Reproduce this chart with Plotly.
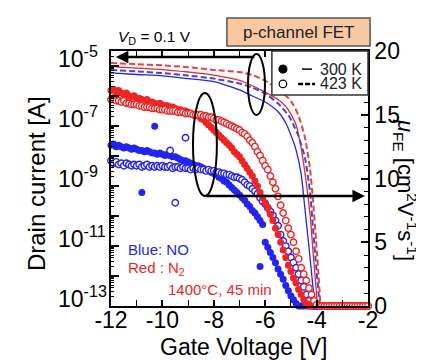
import plotly.graph_objects as go

# ---------------- data ----------------
# Gate voltage grid of the mobility measurements (V)
vg_mu = [-12.0, -11.9, -11.8, -11.7, -11.6, -11.5, -11.4, -11.3, -11.2, -11.1,
         -11.0, -10.9, -10.8, -10.7, -10.6, -10.5, -10.4, -10.3, -10.2, -10.1,
         -10.0, -9.9, -9.8, -9.7, -9.6, -9.5, -9.4, -9.3, -9.2, -9.1,
         -9.0, -8.9, -8.8, -8.7, -8.6, -8.5, -8.4, -8.3, -8.2, -8.1,
         -8.0, -7.9, -7.8, -7.7, -7.6, -7.5, -7.4, -7.3, -7.2, -7.1,
         -7.0, -6.9, -6.8, -6.7, -6.6, -6.5, -6.4, -6.3, -6.2, -6.1,
         -6.0, -5.9, -5.8, -5.7, -5.6, -5.5, -5.4, -5.3, -5.2, -5.1,
         -5.0, -4.9, -4.8, -4.7, -4.6, -4.5, -4.4, -4.3, -4.2, -4.1,
         -4.0, -3.9, -3.8, -3.7, -3.6, -3.5, -3.4, -3.3, -3.2, -3.1,
         -3.0, -2.9, -2.8, -2.7, -2.6, -2.5, -2.4, -2.3, -2.2, -2.1, -2.0]

# Field-effect mobility (cm^2/Vs), N2 anneal, 300 K (red filled)
mu_n2_300 = [16.9, 17.0, 16.8, 16.9, 16.7, 16.6, 16.7, 16.5, 16.4, 16.5,
             16.3, 16.3, 16.2, 16.1, 16.2, 16.0, 16.0, 15.9, 15.8, 15.9,
             15.75, 15.7, 15.7, 15.6, 15.6, 15.5, 15.4, 15.4, 15.3, 15.3,
             15.2, 15.1, 15.0, 15.0, 14.9, 14.7, 14.6, 14.4, 14.2, 14.0,
             13.8, 13.6, 13.4, 13.2, 13.0, 12.8, 12.6, 12.4, 12.1, 11.9,
             11.7, 11.4, 11.1, 10.8, 10.5, 10.2, 9.8, 9.4, 8.9, 8.5,
             8.1, 7.7, 7.2, 6.7, 6.1, 5.6, 5.0, 4.4, 3.8, 3.2,
             2.7, 2.2, 1.8, 1.3, 0.9, 0.5, 0.2, 0.0, 0.0, 0.0,
             0.0, 0.0, 0.0, 0.0, 0.0, 0.0, 0.0, 0.0, 0.0, 0.0,
             0.0, 0.0, 0.0, 0.0, 0.0, 0.0, 0.0, 0.0, 0.0, 0.0, 0.0]

# N2 anneal, 423 K (red open)
mu_n2_423 = [16.2, 16.3, 16.1, 16.1, 16.0, 16.1, 15.9, 15.9, 15.8, 15.8,
             15.8, 15.7, 15.7, 15.6, 15.6, 15.6, 15.5, 15.5, 15.5, 15.4,
             15.4, 15.4, 15.3, 15.3, 15.3, 15.3, 15.2, 15.2, 15.2, 15.1,
             15.1, 15.1, 15.0, 15.0, 15.0, 15.0, 14.9, 14.9, 14.8, 14.8,
             14.7, 14.6, 14.6, 14.5, 14.4, 14.3, 14.2, 14.1, 14.0, 13.9,
             13.8, 13.6, 13.5, 13.3, 13.0, 12.8, 12.5, 12.1, 11.8, 11.4,
             11.0, 10.7, 10.2, 9.7, 9.2, 8.6, 7.9, 7.3, 6.7, 6.1,
             5.6, 5.0, 4.3, 3.7, 3.0, 2.5, 2.0, 1.4, 0.9, 0.4,
             0.1, 0.0, 0.0, 0.0, 0.0, 0.0, 0.0, 0.0, 0.0, 0.0,
             0.0, 0.0, 0.0, 0.0, 0.0, 0.0, 0.0, 0.0, 0.0, 0.0, 0.0]

# NO anneal, 300 K (blue filled)
mu_no_300 = [12.6, 12.7, 12.5, 12.6, 12.5, 12.4, 12.5, 12.4, 12.3, 12.4,
             12.3, 12.2, 12.2, 12.1, 12.2, 12.1, 12.0, 12.0, 11.9, 12.0,
             11.9, 11.8, 11.9, 11.8, 11.7, 11.7, 11.6, 11.5, 11.4, 11.4,
             11.3, 11.2, 11.1, 11.0, 11.0, 10.9, 10.8, 10.7, 10.6, 10.5,
             10.4, 10.3, 10.1, 10.0, 9.8, 9.7, 9.5, 9.3, 9.1, 8.9,
             8.7, 8.5, 8.3, 8.0, 7.8, 7.5, 7.3, 7.0, 6.7, 6.4,
             5.0, 4.6, 4.2, 3.8, 3.4, 2.9, 2.5, 2.1, 1.6, 1.2,
             0.8, 0.5, 0.2, 0.0, 0.0, 0.0, 0.0, 0.0, 0.0, 0.0,
             0.0, 0.0, 0.0, 0.0, 0.0, 0.0, 0.0, 0.0, 0.0, 0.0,
             0.0, 0.0, 0.0, 0.0, 0.0, 0.0, 0.0, 0.0, 0.0, 0.0, 0.0]

# NO anneal, 423 K (blue open)
mu_no_423 = [11.4, 11.2, 11.3, 11.1, 11.2, 11.0, 11.2, 11.1, 11.0, 11.1,
             11.0, 11.1, 10.9, 11.0, 11.1, 10.9, 11.0, 10.9, 11.0, 10.9,
             11.0, 10.9, 10.9, 11.0, 10.8, 10.9, 10.9, 10.8, 10.9, 10.8,
             10.8, 10.7, 10.8, 10.7, 10.8, 10.7, 10.7, 10.6, 10.7, 10.6,
             10.6, 10.5, 10.5, 10.4, 10.4, 10.3, 10.3, 10.2, 10.1, 10.1,
             10.0, 9.9, 9.7, 9.5, 9.4, 9.2, 9.0, 8.8, 8.5, 8.2,
             8.0, 7.7, 7.4, 7.1, 6.7, 6.3, 5.6, 5.1, 4.7, 4.3,
             3.8, 3.4, 3.0, 2.5, 2.0, 1.5, 0.9, 0.4, 0.1, 0.0,
             0.0, 0.0, 0.0, 0.0, 0.0, 0.0, 0.0, 0.0, 0.0, 0.0,
             0.0, 0.0, 0.0, 0.0, 0.0, 0.0, 0.0, 0.0, 0.0, 0.0, 0.0]

# isolated scattered points
out_no_300_v = [-10.3, -10.8, -6.2]
out_no_300_mu = [14.1, 8.9, 3.1]
out_no_423_v = [-9.1, -9.5, -9.7]
out_no_423_mu = [13.2, 8.1, 12.2]

# Drain current (A) lines
vg_i_no_300 = [-12, -11, -10, -9, -8, -7, -6.5, -6, -5.5, -5.2, -5.0, -4.8, -4.6, -4.45, -4.3, -4.15, -4.05]
id_no_300 = [5.9e-6, 5.2e-6, 4.7e-6, 3.8e-6, 3.0e-6, 1.6e-6, 1.0e-6, 6.3e-7, 3.0e-7, 1.26e-7,
             5.0e-8, 1.6e-8, 2.5e-9, 1.6e-10, 1.0e-11, 5.0e-13, 8e-14]

vg_i_n2_300 = [-12, -11, -10, -9, -8, -7, -6.5, -6, -5.5, -5.2, -5.0, -4.8, -4.6, -4.4, -4.25, -4.12, -4.02, -3.96]
id_n2_300 = [9.5e-6, 8.5e-6, 7.6e-6, 6.3e-6, 5.0e-6, 3.3e-6, 2.2e-6, 1.35e-6, 7.6e-7, 4.5e-7,
             2.5e-7, 1.1e-7, 1.8e-8, 1.26e-9, 1.0e-10, 4e-12, 4e-13, 8e-14]

vg_i_no_423 = [-12, -11, -10, -9, -8, -7, -6.5, -6, -5.5, -5.1, -4.9, -4.7, -4.45, -4.26, -4.14, -4.02, -3.87]
id_no_423 = [7.4e-6, 6.6e-6, 5.8e-6, 4.8e-6, 3.8e-6, 2.6e-6, 1.9e-6, 1.2e-6, 5.6e-7, 2.3e-7,
             1.1e-7, 4.5e-8, 8.5e-9, 6.8e-10, 4e-11, 2.3e-12, 8.5e-14]

vg_i_n2_423 = [-12, -11, -10, -9, -8, -7, -6.5, -6, -5.5, -5.1, -4.9, -4.7, -4.45, -4.26, -4.14, -4.02, -3.91, -3.84]
id_n2_423 = [1.26e-5, 1.15e-5, 1.05e-5, 9.1e-6, 7.4e-6, 6.3e-6, 5.0e-6, 3.2e-6, 1.66e-6, 8.5e-7,
             5e-7, 2.2e-7, 4e-8, 4e-9, 3.2e-10, 1.5e-11, 6.8e-13, 8.5e-14]

x_tickvals = [-12, -10, -8, -6, -4, -2]
x_ticktext = ["-12", "-10", "-8", "-6", "-4", "-2"]
y_tickvals = [1e-13, 1e-12, 1e-11, 1e-10, 1e-9, 1e-8, 1e-7, 1e-6, 1e-5]
y_label_exp = [-13, -11, -9, -7, -5]
y_label_text = ["10<sup>-13</sup>", "10<sup>-11</sup>", "10<sup>-9</sup>", "10<sup>-7</sup>", "10<sup>-5</sup>"]
y2_tickvals = [0, 5, 10, 15, 20]

# ---------------- figure ----------------
BLUE = "#2424F0"
RED = "#F02424"
FONT = "Liberation Sans, Arial, sans-serif"

fig = go.Figure()

def mk(x, y, color, filled):
    if filled:
        marker = dict(symbol="circle", size=7, color=color, line=dict(width=0))
    else:
        marker = dict(symbol="circle", size=6.5, color="white", line=dict(width=1.4, color=color))
    return go.Scatter(x=x, y=y, mode="markers", marker=marker, yaxis="y2",
                      cliponaxis=False, showlegend=False, hoverinfo="skip")

fig.add_trace(mk(vg_mu, mu_no_300, BLUE, True))
fig.add_trace(mk(out_no_300_v, out_no_300_mu, BLUE, True))
fig.add_trace(mk(vg_mu, mu_no_423, BLUE, False))
fig.add_trace(mk(out_no_423_v, out_no_423_mu, BLUE, False))
fig.add_trace(mk(vg_mu, mu_n2_300, RED, True))
fig.add_trace(mk(vg_mu, mu_n2_423, RED, False))

def ln(x, y, color, dashed):
    return go.Scatter(x=x, y=y, mode="lines", yaxis="y",
                      line=dict(color=color, width=2 if dashed else 1.3,
                                dash="6px,3px" if dashed else "solid", shape="spline", smoothing=0.6),
                      showlegend=False, hoverinfo="skip")

fig.add_trace(ln(vg_i_no_300, id_no_300, BLUE, False))
fig.add_trace(ln(vg_i_n2_300, id_n2_300, RED, False))
fig.add_trace(ln(vg_i_no_423, id_no_423, "#3c4ad8", True))
fig.add_trace(ln(vg_i_n2_423, id_n2_423, "#e8404a", True))

axis_common = dict(showgrid=False, zeroline=False, showline=True, linecolor="black", linewidth=1.5,
                   ticks="inside", tickcolor="black", tickwidth=1.5,
                   tickfont=dict(family=FONT, size=23, color="black"))

fig.update_layout(
    width=424, height=360,
    margin=dict(l=103, r=64, t=43, b=62),
    paper_bgcolor="white", plot_bgcolor="white",
    font=dict(family=FONT, color="black"),
    showlegend=False,
    xaxis=dict(range=[-12, -2], tickmode="array", tickvals=x_tickvals, ticktext=x_ticktext,
               ticklen=6, mirror="allticks", ticklabelstandoff=-7,
               minor=dict(dtick=1, ticks="inside", ticklen=4, tickcolor="black", tickwidth=1.2),
               **axis_common),
    yaxis=dict(type="log", range=[-13, -4.5], tickmode="array", tickvals=y_tickvals,
               showticklabels=False, ticklen=8,
               minor=dict(dtick="D1", ticks="inside", ticklen=3, tickcolor="black", tickwidth=1),
               **axis_common),
    yaxis2=dict(overlaying="y", side="right", range=[0, 20], tickmode="array",
                tickvals=y2_tickvals, ticklen=7,
                minor=dict(dtick=1, ticks="inside", ticklen=4, tickcolor="black", tickwidth=1.2),
                **axis_common),
)

shapes = []
# ellipses
shapes.append(dict(type="circle", xref="paper", yref="paper", x0=0.533, x1=0.599, y0=0.749, y1=0.988,
                   line=dict(color="black", width=2), layer="above"))
shapes.append(dict(type="circle", xref="paper", yref="paper", x0=0.319, x1=0.412, y0=0.431, y1=0.835,
                   line=dict(color="black", width=2), layer="above"))
# legend box
shapes.append(dict(type="rect", xref="paper", yref="paper", x0=0.626, x1=1.0, y0=0.827, y1=1.0,
                   line=dict(color="#333333", width=1.5), fillcolor="white", layer="above"))
shapes.append(dict(type="circle", xref="paper", yref="paper", x0=0.669 - 0.0156, x1=0.669 + 0.0156,
                   y0=0.929 - 0.0157, y1=0.929 + 0.0157, fillcolor="black", line=dict(color="black", width=1),
                   layer="above"))
shapes.append(dict(type="circle", xref="paper", yref="paper", x0=0.669 - 0.0146, x1=0.669 + 0.0146,
                   y0=0.871 - 0.0147, y1=0.871 + 0.0147, fillcolor="white", line=dict(color="black", width=1.2),
                   layer="above"))
shapes.append(dict(type="line", xref="paper", yref="paper", x0=0.743, x1=0.782, y0=0.929, y1=0.929,
                   line=dict(color="black", width=1.5), layer="above"))
shapes.append(dict(type="line", xref="paper", yref="paper", x0=0.728, x1=0.794, y0=0.871, y1=0.871,
                   line=dict(color="black", width=2.5, dash="5px,2px"), layer="above"))
# p-channel FET box
shapes.append(dict(type="rect", xref="paper", yref="paper", x0=0.451, x1=1.008, y0=1.0196, y1=1.129,
                   line=dict(color="#555555", width=1.5), fillcolor="#F8C8A2", layer="above"))
fig.update_layout(shapes=shapes)

ann = []
# left-axis tick labels (left aligned as in the original)
for e, t in zip(y_label_exp, y_label_text):
    ann.append(dict(xref="paper", yref="y", x=-0.214, y=e, text=t, showarrow=False,
                    xanchor="left", yanchor="middle", yshift=9,
                    font=dict(family=FONT, size=23, color="black")))
ann.append(dict(xref="paper", yref="paper", x=0.805, y=0.929, text="300 K", showarrow=False,
                xanchor="left", yanchor="middle", font=dict(family=FONT, size=16, color="#222")))
ann.append(dict(xref="paper", yref="paper", x=0.805, y=0.871, text="423 K", showarrow=False,
                xanchor="left", yanchor="middle", font=dict(family=FONT, size=16, color="#222")))
ann.append(dict(xref="paper", yref="paper", x=0.73, y=1.074, text="p-channel FET", showarrow=False,
                xanchor="center", yanchor="middle", font=dict(family=FONT, size=17, color="#222")))
ann.append(dict(xref="paper", yref="paper", x=0.02, y=1.051, text="<i>V</i><sub>D</sub> = 0.1 V",
                showarrow=False, xanchor="left", yanchor="middle", font=dict(family=FONT, size=15.5, color="black")))
ann.append(dict(xref="paper", yref="paper", x=0.058, y=0.22, text="Blue: NO", showarrow=False,
                xanchor="left", yanchor="middle", font=dict(family=FONT, size=15, color=BLUE)))
ann.append(dict(xref="paper", yref="paper", x=0.058, y=0.149, text="Red : N<sub>2</sub>", showarrow=False,
                xanchor="left", yanchor="middle", font=dict(family=FONT, size=15, color=RED)))
ann.append(dict(xref="paper", yref="paper", x=0.214, y=0.063, text="1400°C, 45 min", showarrow=False,
                xanchor="left", yanchor="middle", font=dict(family=FONT, size=15, color=RED)))
# axis titles
ann.append(dict(xref="paper", yref="paper", x=0.518, y=-0.16, text="Gate Voltage [V]", showarrow=False,
                xanchor="center", yanchor="middle", font=dict(family=FONT, size=23, color="black")))
ann.append(dict(xref="paper", yref="paper", x=-0.29, y=0.48, text="Drain current [A]", showarrow=False,
                textangle=-90, xanchor="center", yanchor="middle", font=dict(family=FONT, size=24, color="black")))
ann.append(dict(xref="paper", yref="paper", x=1.144, y=0.455,
                text="<i>μ</i><sub>FE</sub> [cm<sup>2</sup>V<sup>-1</sup>s<sup>-1</sup>]", showarrow=False,
                textangle=90, xanchor="center", yanchor="middle", font=dict(family=FONT, size=22, color="black")))
# arrows
ann.append(dict(xref="paper", yref="paper", x=0.019, y=0.976, ax=140, ay=0, axref="pixel", ayref="pixel",
                text="", showarrow=True, arrowhead=2, arrowsize=1, arrowwidth=2.5, arrowcolor="black"))
ann.append(dict(xref="paper", yref="paper", x=0.988, y=0.431, ax=-160, ay=0, axref="pixel", ayref="pixel",
                text="", showarrow=True, arrowhead=2, arrowsize=1, arrowwidth=2.5, arrowcolor="black"))
fig.update_layout(annotations=ann)

fig.write_html("out.html")
